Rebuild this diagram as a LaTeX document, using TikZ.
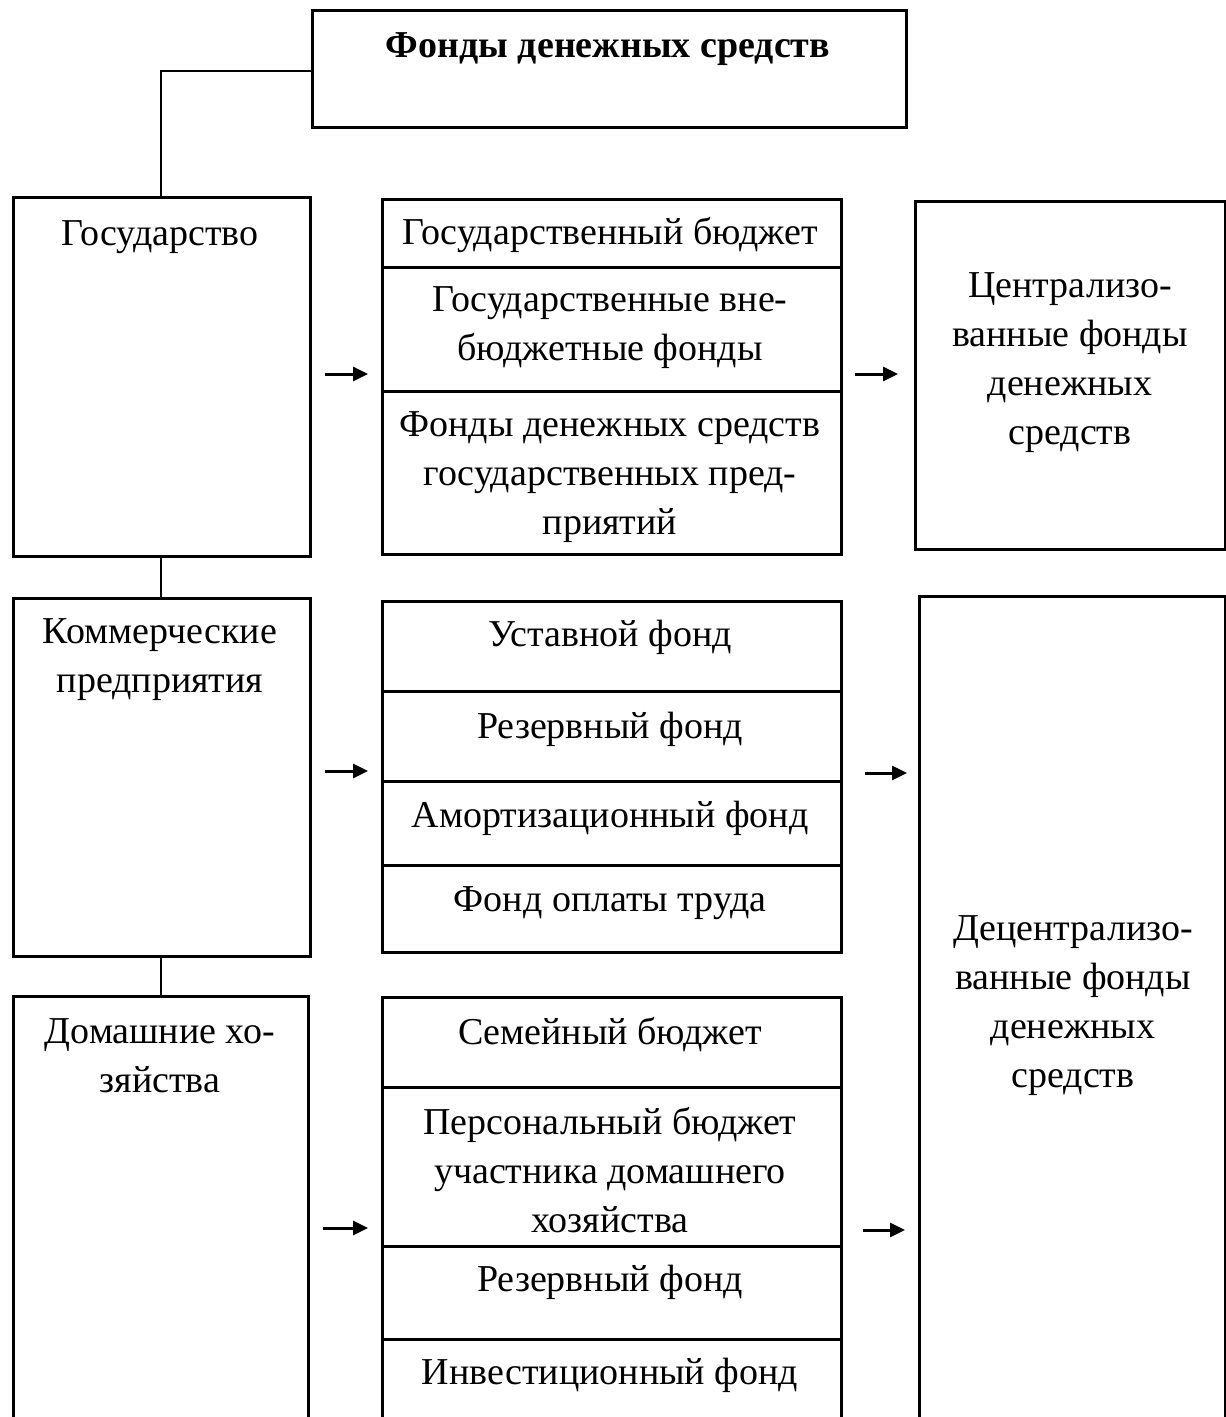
\documentclass[tikz,border=0pt]{standalone}
\usepackage{fontspec}
\setmainfont{Liberation Serif}
\usetikzlibrary{arrows.meta}
\begin{document}
\begin{tikzpicture}[x=1pt,y=-1pt,
  box/.style={draw,line width=3pt,rectangle,inner sep=0pt,anchor=north west},
  lbl/.style={inner sep=0pt,anchor=base,align=center,font=\fontsize{38}{49}\selectfont},
  conn/.style={line width=1.5pt},
  arr/.style={line width=3pt,-{Triangle[length=15pt,width=14pt]}}]
\useasboundingbox (0,0) rectangle (1226,1417);
\clip (0,0) rectangle (1226,1417);
% title
\node[box,minimum width=594pt,minimum height=117pt] (title) at (311,9) {};
\node[lbl,font=\fontsize{38}{49}\selectfont\bfseries] (titlet) at (608,57) {Фонды денежных средств};
% left column
\node[box,minimum width=297pt,minimum height=359pt] (gos) at (12,196) {};
\node[lbl] (gost) at (160,245) {Государство};
\node[box,minimum width=297pt,minimum height=358pt] (kom) at (12,597) {};
\node[lbl] (komt) at (160,692) {Коммерческие\\предприятия};
\node[box,minimum width=295pt,minimum height=460pt] (dom) at (12,995) {};
\node[lbl] (domt) at (160,1092) {Домашние хо-\\зяйства};
% middle group 1
\node[box,minimum width=459pt,minimum height=68pt] (c11) at (381,198) {};
\node[box,minimum width=459pt,minimum height=124pt] (c12) at (381,266) {};
\node[box,minimum width=459pt,minimum height=163pt] (c13) at (381,390) {};
\node[lbl] (c11t) at (610,244) {Государственный бюджет};
\node[lbl] (c12t) at (610,360) {Государственные вне-\\бюджетные фонды};
\node[lbl] (c13t) at (610,534) {Фонды денежных средств\\государственных пред-\\приятий};
% middle group 2
\node[box,minimum width=459pt,minimum height=90pt] (c21) at (381,600) {};
\node[box,minimum width=459pt,minimum height=90pt] (c22) at (381,690) {};
\node[box,minimum width=459pt,minimum height=84pt] (c23) at (381,780) {};
\node[box,minimum width=459pt,minimum height=87pt] (c24) at (381,864) {};
\node[lbl] (c21t) at (610,646) {Уставной фонд};
\node[lbl] (c22t) at (610,738) {Резервный фонд};
\node[lbl] (c23t) at (610,827) {Амортизационный фонд};
\node[lbl] (c24t) at (610,911) {Фонд оплаты труда};
% middle group 3
\node[box,minimum width=459pt,minimum height=90pt] (c31) at (381,996) {};
\node[box,minimum width=459pt,minimum height=159pt] (c32) at (381,1086) {};
\node[box,minimum width=459pt,minimum height=93pt] (c33) at (381,1245) {};
\node[box,minimum width=459pt,minimum height=120pt] (c34) at (381,1338) {};
\node[lbl] (c31t) at (610,1044) {Семейный бюджет};
\node[lbl] (c32t) at (610,1232) {Персональный бюджет\\участника домашнего\\хозяйства};
\node[lbl] (c33t) at (610,1291) {Резервный фонд};
\node[lbl] (c34t) at (610,1384) {Инвестиционный фонд};
% right column
\node[box,minimum width=310pt,minimum height=348pt] (cen) at (914,200) {};
\node[lbl] (cent) at (1070,444) {Централизо-\\ванные фонды\\денежных\\средств};
\node[box,minimum width=306pt,minimum height=860pt] (dec) at (918,595) {};
\node[lbl] (dect) at (1073,1087) {Децентрализо-\\ванные фонды\\денежных\\средств};
% connectors
\draw[conn] (title.west |- 0,71) -| (gos.north -| 161,0);
\draw[conn] (gos.south -| 161,0) -- (kom.north -| 161,0);
\draw[conn] (kom.south -| 161,0) -- (dom.north -| 161,0);
% arrows
\coordinate (a1) at (0,374);
\coordinate (a2) at (0,771);
\coordinate (a3) at (0,1228);
\draw[arr,shorten <=13pt,shorten >=13pt] (gos.east |- a1) -- (c12.west |- a1);
\draw[arr,shorten <=12pt,shorten >=16pt] (c12.east |- a1) -- (cen.west |- a1);
\draw[arr,shorten <=13pt,shorten >=13pt] (kom.east |- a2) -- (c22.west |- a2);
\draw[arr,shorten <=22pt,shorten >=11pt] (c22.east |- 0,773) -- (dec.west |- 0,773);
\draw[arr,shorten <=13pt,shorten >=13pt] (dom.east |- a3) -- (c32.west |- a3);
\draw[arr,shorten <=20pt,shorten >=13pt] (c32.east |- 0,1230) -- (dec.west |- 0,1230);
\end{tikzpicture}
\end{document}
